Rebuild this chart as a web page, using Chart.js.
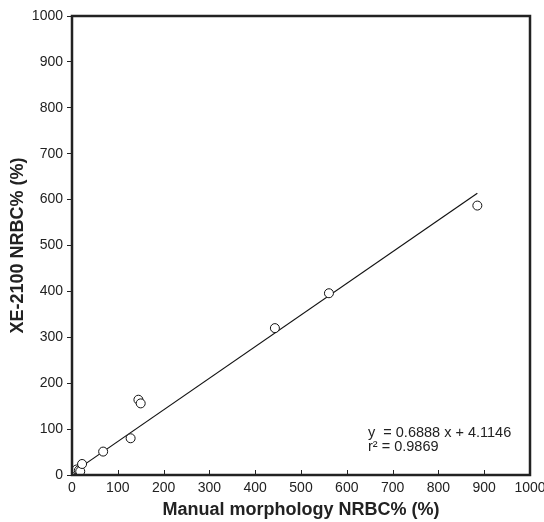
<!DOCTYPE html>
<html>
<head>
<meta charset="utf-8">
<script src="https://cdn.jsdelivr.net/npm/chart.js@4.4.0/dist/chart.umd.min.js"></script>
<style>
  body { margin: 0; background: #fff; }
  #wrap { width: 544px; height: 522px; }
</style>
</head>
<body>
<div id="wrap"><canvas id="scatterChart"></canvas></div>
<script>
// measured points (manual vs XE-2100)
const manualX = [0, 3, 6, 10, 15, 18, 22, 68, 128, 145, 150, 443, 561, 885];
const xeY = [0, 3, 8, 12, 10, 8, 24, 51, 80, 164, 156, 320, 396, 587];
// regression line end points
const fitX = [0, 885];
const fitY = [4.1146, 613.7];
const tickValues = [0, 100, 200, 300, 400, 500, 600, 700, 800, 900, 1000];

const ink = '#222';
const fontFam = '"Liberation Sans", Arial, sans-serif';

const framePlugin = {
    id: 'frame',
    afterDraw(chart) {
        const { ctx, chartArea: a, scales } = chart;
        ctx.save();
        ctx.strokeStyle = ink;
        // inward ticks on x axis
        ctx.lineWidth = 1;
        tickValues.forEach(v => {
            const px = Math.round(scales.x.getPixelForValue(v)) + 0.5;
            ctx.beginPath();
            ctx.moveTo(px, a.bottom);
            ctx.lineTo(px, a.bottom - 5);
            ctx.stroke();
        });
        ctx.lineWidth = 2.5;
        ctx.strokeRect(a.left, a.top, a.right - a.left, a.bottom - a.top);
        // equation text
        ctx.fillStyle = ink;
        ctx.font = '14.5px ' + fontFam;
        ctx.textBaseline = 'alphabetic';
        ctx.fillText('y  = 0.6888 x + 4.1146', 368, 437);
        ctx.fillText('r\u00B2 = 0.9869', 368, 451);
        ctx.restore();
    }
};

new Chart(document.getElementById('scatterChart'), {
    type: 'scatter',
    data: {
        datasets: [
            {
                label: 'NRBC',
                data: manualX.map((x, i) => ({ x: x, y: xeY[i] })),
                pointStyle: 'circle',
                pointRadius: 4.5,
                pointBackgroundColor: '#fff',
                pointBorderColor: '#111',
                pointBorderWidth: 1,
                order: 1
            },
            {
                label: 'fit',
                type: 'line',
                data: fitX.map((x, i) => ({ x: x, y: fitY[i] })),
                borderColor: '#111',
                borderWidth: 1.2,
                pointRadius: 0,
                fill: false,
                order: 2
            }
        ]
    },
    options: {
        responsive: true,
        maintainAspectRatio: false,
        animation: false,
        layout: { padding: { top: 16, right: 0, left: 7, bottom: 0 } },
        plugins: {
            legend: { display: false },
            tooltip: { enabled: false }
        },
        scales: {
            x: {
                type: 'linear',
                min: 0,
                max: 1000,
                afterBuildTicks: s => { s.ticks = tickValues.map(v => ({ value: v })); },
                afterFit: s => { s.height = 47; s.paddingLeft = 0; s.paddingRight = 14; },
                grid: { display: false, drawTicks: false },
                border: { display: false },
                ticks: {
                    color: ink,
                    padding: 5,
                    maxRotation: 0,
                    callback: v => String(v),
                    font: { family: fontFam, size: 14 }
                },
                title: {
                    display: true,
                    text: 'Manual morphology NRBC% (%)',
                    color: ink,
                    padding: { top: 2, bottom: 1 },
                    font: { family: fontFam, size: 18, weight: 'bold' }
                }
            },
            y: {
                type: 'linear',
                min: 0,
                max: 1000,
                afterBuildTicks: s => { s.ticks = tickValues.map(v => ({ value: v })); },
                afterFit: s => { s.width = 65; s.paddingTop = 0; s.paddingBottom = 0; },
                grid: {
                    display: true,
                    drawOnChartArea: false,
                    drawTicks: true,
                    tickLength: 5,
                    color: ink
                },
                border: { display: false },
                ticks: {
                    color: ink,
                    padding: 4,
                    callback: v => String(v),
                    font: { family: fontFam, size: 14 }
                },
                title: {
                    display: true,
                    text: 'XE-2100 NRBC% (%)',
                    color: ink,
                    padding: { top: 0, bottom: 2 },
                    font: { family: fontFam, size: 18, weight: 'bold' }
                }
            }
        }
    },
    plugins: [framePlugin]
});
</script>
</body>
</html>
